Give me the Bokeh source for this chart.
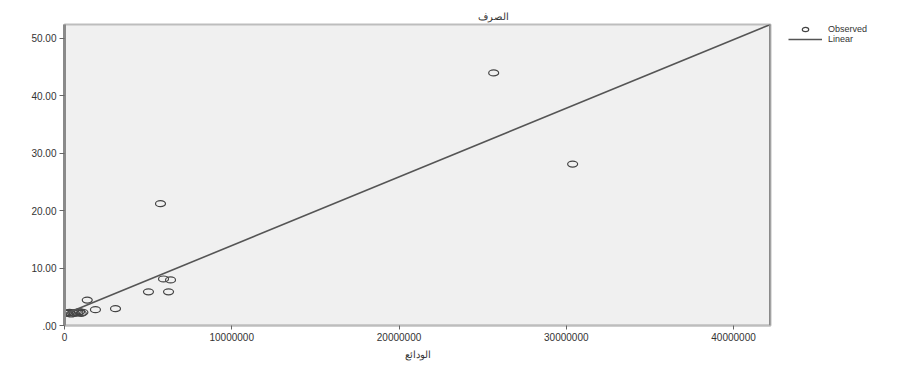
from bokeh.plotting import figure
from bokeh.layouts import row
from bokeh.models import (Range1d, Legend, LegendItem, FixedTicker, Span,
                          CustomJSTickFormatter, ColumnDataSource)
from bokeh.embed import file_html
from bokeh.resources import INLINE

obs_x = [100000, 200000, 300000, 400000, 500000, 600000, 700000, 800000, 900000,
         1000000, 1100000, 1360000, 1850000, 3050000, 5020000, 6220000, 5920000,
         6340000, 5740000, 25660000, 30380000]
obs_y = [2.2, 2.1, 2.3, 2.0, 2.2, 2.1, 2.3, 2.2, 2.4, 2.1, 2.3, 4.43, 2.76, 2.93,
         5.86, 5.86, 8.1, 7.93, 21.2, 43.97, 28.1]

# Linear fit line (endpoints)
lin_x = [0, 42210000]
lin_y = [1.96, 52.4]

x_ticks = [0, 10000000, 20000000, 30000000, 40000000]
y_ticks = [0, 10, 20, 30, 40, 50]
x_max = 42210000
y_max = 52.4

title_text = "الصرف"
x_label = "الودائع"
legend_labels = ["Observed", "Linear"]

FONT = "Liberation Sans"
TXT = "#333333"

p = figure(width=788, height=362, output_backend="svg", toolbar_location=None,
           x_range=Range1d(0, x_max), y_range=Range1d(0, y_max),
           min_border_left=64, min_border_right=18, min_border_top=24,
           min_border_bottom=34)

p.title.text = title_text
p.title.align = "left"
p.title.offset = 413
p.title.text_font = FONT
p.title.text_font_size = "10px"
p.title.text_font_style = "normal"
p.title.text_color = TXT
p.title.standoff = 5

p.background_fill_color = "#f0f0f0"
p.border_fill_color = "white"
p.outline_line_color = "#bdbdbd"
p.outline_line_width = 2
p.grid.visible = False

xa = p.xaxis[0]
xa.ticker = FixedTicker(ticks=x_ticks)
xa.formatter = CustomJSTickFormatter(code="return tick.toFixed(0);")
xa.axis_label = x_label
xa.axis_label_text_font = FONT
xa.axis_label_text_font_size = "10px"
xa.axis_label_text_font_style = "normal"
xa.axis_label_text_color = TXT
xa.axis_label_standoff = 5
xa.major_label_text_font = FONT
xa.major_label_text_font_size = "10px"
xa.major_label_text_color = TXT
xa.major_label_standoff = 3
xa.axis_line_color = "#bdbdbd"
xa.axis_line_width = 2
xa.major_tick_line_color = "#666666"
xa.major_tick_out = 4
xa.major_tick_in = 0
xa.minor_tick_line_color = None

ya = p.yaxis[0]
ya.ticker = FixedTicker(ticks=y_ticks)
ya.formatter = CustomJSTickFormatter(code="return tick == 0 ? '.00' : tick.toFixed(2);")
ya.major_label_text_font = FONT
ya.major_label_text_font_size = "10px"
ya.major_label_text_color = TXT
ya.major_label_standoff = 3
ya.axis_line_color = "#8a8a8a"
ya.axis_line_width = 3
ya.major_tick_line_color = "#666666"
ya.major_tick_out = 5
ya.major_tick_in = 0
ya.minor_tick_line_color = None

# thick right frame border
p.add_layout(Span(location=x_max, dimension="height", line_color="#8a8a8a",
                  line_width=3))

src = ColumnDataSource(dict(x=obs_x, y=obs_y))
p.ellipse(x="x", y="y", width=10, height=6, width_units="screen",
          height_units="screen", source=src, fill_color=None,
          line_color="#444444", line_width=1.2)
p.line(lin_x, lin_y, line_color="#555555", line_width=1.6)

# legend panel (its swatch renderers reuse the data, which lies outside this
# panel's 0..1 ranges, so only the legend swatches show)
lg = figure(width=112, height=362, output_backend="svg", toolbar_location=None,
            x_range=Range1d(0, 1), y_range=Range1d(0, 1),
            x_axis_location=None, y_axis_location=None,
            min_border_left=0, min_border_right=0, min_border_top=22,
            min_border_bottom=0)
lg.outline_line_color = None
lg.grid.visible = False
lg.background_fill_color = "white"
d_obs = lg.ellipse(x="x", y="y", width=9, height=6, width_units="screen",
                   height_units="screen", source=src, fill_color=None,
                   line_color="#444444", line_width=1.2)
d_lin = lg.line(lin_x, lin_y, line_color="#555555", line_width=1.6)
legend = Legend(items=[LegendItem(label=legend_labels[0], renderers=[d_obs]),
                       LegendItem(label=legend_labels[1], renderers=[d_lin])],
                location="top_left", orientation="vertical",
                label_text_font=FONT, label_text_font_size="9px",
                label_text_color=TXT, label_height=8, glyph_height=8,
                glyph_width=34, spacing=0, padding=0, margin=0,
                label_standoff=6, background_fill_alpha=0,
                border_line_color=None)
lg.add_layout(legend, "center")

layout = row(p, lg)
open("out.html", "w").write(file_html(layout, INLINE))
